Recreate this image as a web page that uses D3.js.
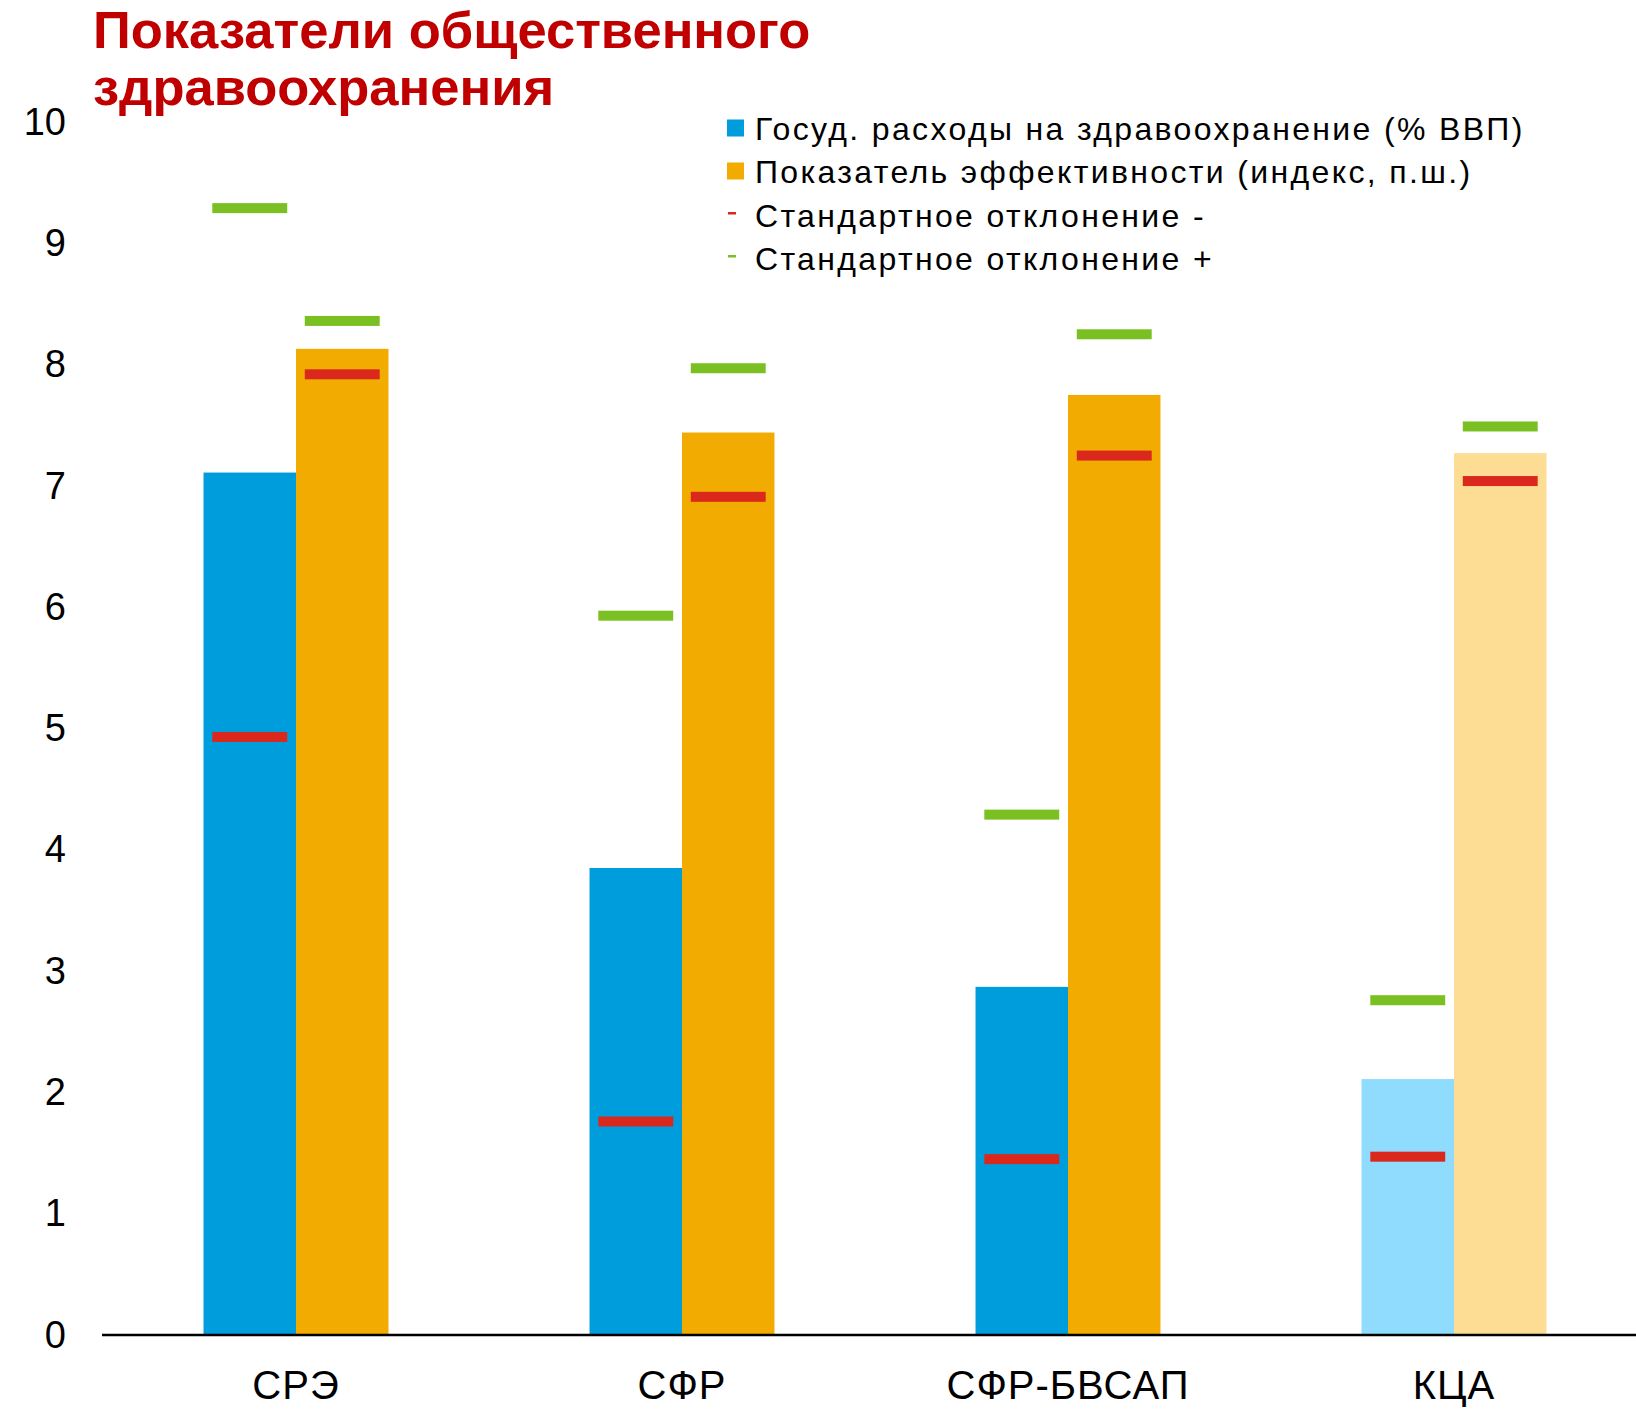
<!DOCTYPE html>
<html>
<head>
<meta charset="utf-8">
<script src="https://cdn.jsdelivr.net/npm/d3@7"></script>
<style>
  html, body { margin: 0; padding: 0; background: #ffffff; }
  svg { display: block; font-family: "Liberation Sans", Arial, sans-serif; }
</style>
</head>
<body>
<svg id="chart" width="1636" height="1410"></svg>
<script>
// ---- Data ----
const categories = ["СРЭ", "СФР", "СФР-БВСАП", "КЦА"];
const seriesKeys = ["spending", "efficiency"];
const seriesNames = [
  "Госуд. расходы на здравоохранение (% ВВП)",
  "Показатель эффективности (индекс, п.ш.)"
];
const spending = [7.11, 3.85, 2.87, 2.11];
const efficiency = [8.13, 7.44, 7.75, 7.27];
const spendingSdMinus = [4.93, 1.76, 1.45, 1.47];
const spendingSdPlus = [9.29, 5.93, 4.29, 2.76];
const efficiencySdMinus = [7.92, 6.91, 7.25, 7.04];
const efficiencySdPlus = [8.36, 7.97, 8.25, 7.49];
const yTicks = [0, 1, 2, 3, 4, 5, 6, 7, 8, 9, 10];
const titleLines = ["Показатели общественного", "здравоохранения"];
const sdNames = ["Стандартное отклонение -", "Стандартное отклонение +"];

// ---- Styles ----
const spendingColors = ["#009ddc", "#009ddc", "#009ddc", "#8fdcff"];
const efficiencyColors = ["#f2ab00", "#f2ab00", "#f2ab00", "#fddc93"];
const sdMinusColor = "#da291c";
const sdPlusColor = "#7bc022";
const titleColor = "#c00000";

const svg = d3.select("#chart");

const x0 = d3.scaleBand().domain(categories).range([103, 1647]).padding(0);
const x1 = d3.scaleBand().domain(seriesKeys).range([0, x0.bandwidth()])
  .paddingInner(0).paddingOuter(1.087);
const y = d3.scaleLinear().domain([0, 10]).range([1335, 122]);

// Y axis (labels only)
const yAxis = svg.append("g")
  .attr("transform", "translate(66,0)")
  .call(d3.axisLeft(y).tickValues(yTicks).tickSize(0).tickPadding(0).tickFormat(d3.format("d")));
yAxis.select(".domain").remove();
yAxis.selectAll("text")
  .attr("font-family", "Liberation Sans, Arial, sans-serif")
  .attr("font-size", 38).attr("fill", "#000");

// Bars
const rows = categories.map((c, i) => ({
  cat: c, i,
  values: [
    { key: "spending", v: spending[i], lo: spendingSdMinus[i], hi: spendingSdPlus[i], color: spendingColors[i] },
    { key: "efficiency", v: efficiency[i], lo: efficiencySdMinus[i], hi: efficiencySdPlus[i], color: efficiencyColors[i] }
  ]
}));

const groups = svg.append("g").selectAll("g").data(rows).join("g")
  .attr("transform", d => `translate(${x0(d.cat)},0)`);

groups.selectAll("rect.bar").data(d => d.values).join("rect")
  .attr("class", "bar")
  .attr("x", d => x1(d.key))
  .attr("width", x1.bandwidth())
  .attr("y", d => y(d.v))
  .attr("height", d => y(0) - y(d.v))
  .attr("fill", d => d.color);

const markW = x1.bandwidth() * 0.81;
const markH = 10;
groups.selectAll("rect.lo").data(d => d.values).join("rect")
  .attr("class", "lo")
  .attr("x", d => x1(d.key) + (x1.bandwidth() - markW) / 2)
  .attr("width", markW)
  .attr("y", d => y(d.lo) - markH / 2)
  .attr("height", markH)
  .attr("fill", sdMinusColor);
groups.selectAll("rect.hi").data(d => d.values).join("rect")
  .attr("class", "hi")
  .attr("x", d => x1(d.key) + (x1.bandwidth() - markW) / 2)
  .attr("width", markW)
  .attr("y", d => y(d.hi) - markH / 2)
  .attr("height", markH)
  .attr("fill", sdPlusColor);

// X axis
const xAxis = svg.append("g")
  .attr("transform", `translate(0,${y(0)})`)
  .call(d3.axisBottom(x0).tickSize(0).tickPadding(36));
xAxis.select(".domain").attr("stroke", "#000").attr("stroke-width", 2.5)
  .attr("d", `M102,0H1636`);
xAxis.selectAll("text")
  .attr("font-family", "Liberation Sans, Arial, sans-serif")
  .attr("font-size", 40).attr("letter-spacing", 1).attr("fill", "#000");

// Title
svg.append("g").selectAll("text").data(titleLines).join("text")
  .attr("x", 93)
  .attr("y", (d, i) => 48 + i * 57)
  .attr("font-size", 52.5)
  .attr("font-weight", "bold")
  .attr("fill", titleColor)
  .text(d => d);

// Legend
const legend = svg.append("g").attr("font-size", 32).attr("letter-spacing", 2.35).attr("fill", "#000");
const legendY = [128, 171, 215, 258];
const legendItems = [
  { name: seriesNames[0], type: "box", color: spendingColors[0] },
  { name: seriesNames[1], type: "box", color: efficiencyColors[0] },
  { name: sdNames[0], type: "dash", color: sdMinusColor },
  { name: sdNames[1], type: "dash", color: sdPlusColor }
];
legendItems.forEach((it, i) => {
  const cy = legendY[i];
  if (it.type === "box") {
    legend.append("rect").attr("x", 727).attr("y", cy - 8.5).attr("width", 17).attr("height", 17).attr("fill", it.color);
  } else {
    legend.append("rect").attr("x", 728).attr("y", cy - 3).attr("width", 8).attr("height", 2.5).attr("fill", it.color);
  }
  legend.append("text").attr("x", 755).attr("y", cy + 11.5).text(it.name);
});
</script>
</body>
</html>
